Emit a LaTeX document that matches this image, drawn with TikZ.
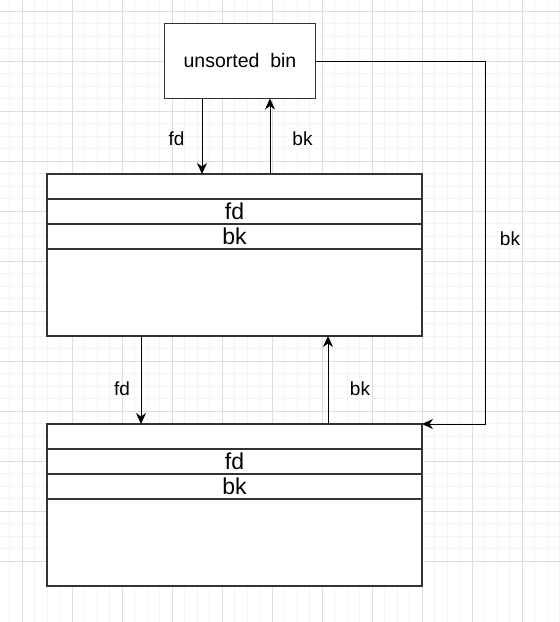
\documentclass[tikz,border=0pt]{standalone}
\usepackage{fontspec}
\setmainfont{Liberation Sans}
\usetikzlibrary{arrows.meta,positioning}

\definecolor{gridminor}{RGB}{244,244,244}
\definecolor{gridmajor}{RGB}{221,221,221}
\definecolor{boxline}{RGB}{51,51,51}

\begin{document}
\begin{tikzpicture}[x=1pt,y=-1pt,
    box/.style={draw=boxline,line width=1.3pt,fill=white,inner sep=0pt,outer sep=0pt},
    row/.style={box,minimum width=375pt,minimum height=25pt,font=\fontsize{23}{26}\selectfont},
    lbl/.style={inner sep=0pt,font=\fontsize{19}{22}\selectfont},
    link/.style={line width=1pt,-{Stealth[length=11pt,width=10pt,inset=3.5pt]}}]

    \useasboundingbox (0,0) rectangle (560,622);
    \fill[white] (0,0) rectangle (560,622);

    % Grid
    \foreach \i in {0,...,44} {
        \draw[gridminor,line width=1pt] ({9.8+12.5*\i},0) -- ++(0,622);
        \draw[gridminor,line width=1pt] (0,{11.3+12.5*\i}) -- ++(560,0);
    }
    \foreach \i in {0,...,11} {
        \draw[gridmajor,line width=1pt] ({22.3+50*\i},0) -- ++(0,622);
        \draw[gridmajor,line width=1pt] (0,{11.3+50*\i}) -- ++(560,0);
    }

    % Unsorted bin
    \node[box,minimum width=150.5pt,minimum height=75pt,font=\fontsize{19.5}{22}\selectfont]
        (bin) at (240,61) {unsorted~~bin};

    % First chunk
    \node[row] (c1top) at (234.5,186.5) {};
    \node[row,below=0pt of c1top] (c1fd) {fd};
    \node[row,below=0pt of c1fd] (c1bk) {bk};
    \node[row,minimum height=87pt,below=0pt of c1bk] (c1body) {};

    % Second chunk
    \node[row] (c2top) at (234.5,436.5) {};
    \node[row,below=0pt of c2top] (c2fd) {fd};
    \node[row,below=0pt of c2fd] (c2bk) {bk};
    \node[row,minimum height=87pt,below=0pt of c2bk] (c2body) {};

    % Links
    \draw[link] ([xshift=-38pt]bin.south) -- ([xshift=-38pt]bin.south |- c1top.north);
    \draw[link] ([xshift=30pt]bin.south |- c1top.north) -- ([xshift=30pt]bin.south);
    \draw[link] ([xshift=-93.5pt]c1body.south) -- ([xshift=-93.5pt]c1body.south |- c2top.north);
    \draw[link] ([xshift=93.5pt]c1body.south |- c2top.north) -- ([xshift=93.5pt]c1body.south);
    \draw[link] (bin.east) -- ++(170,0) |- (c2top.north east);

    % Labels
    \node[lbl] (fdA) at (176.5,139) {fd};
    \node[lbl] (bkA) at (302.5,139) {bk};
    \node[lbl] (fdB) at (122,389) {fd};
    \node[lbl] (bkB) at (360,388.5) {bk};
    \node[lbl] (bkC) at (510,238.5) {bk};

\end{tikzpicture}
\end{document}
